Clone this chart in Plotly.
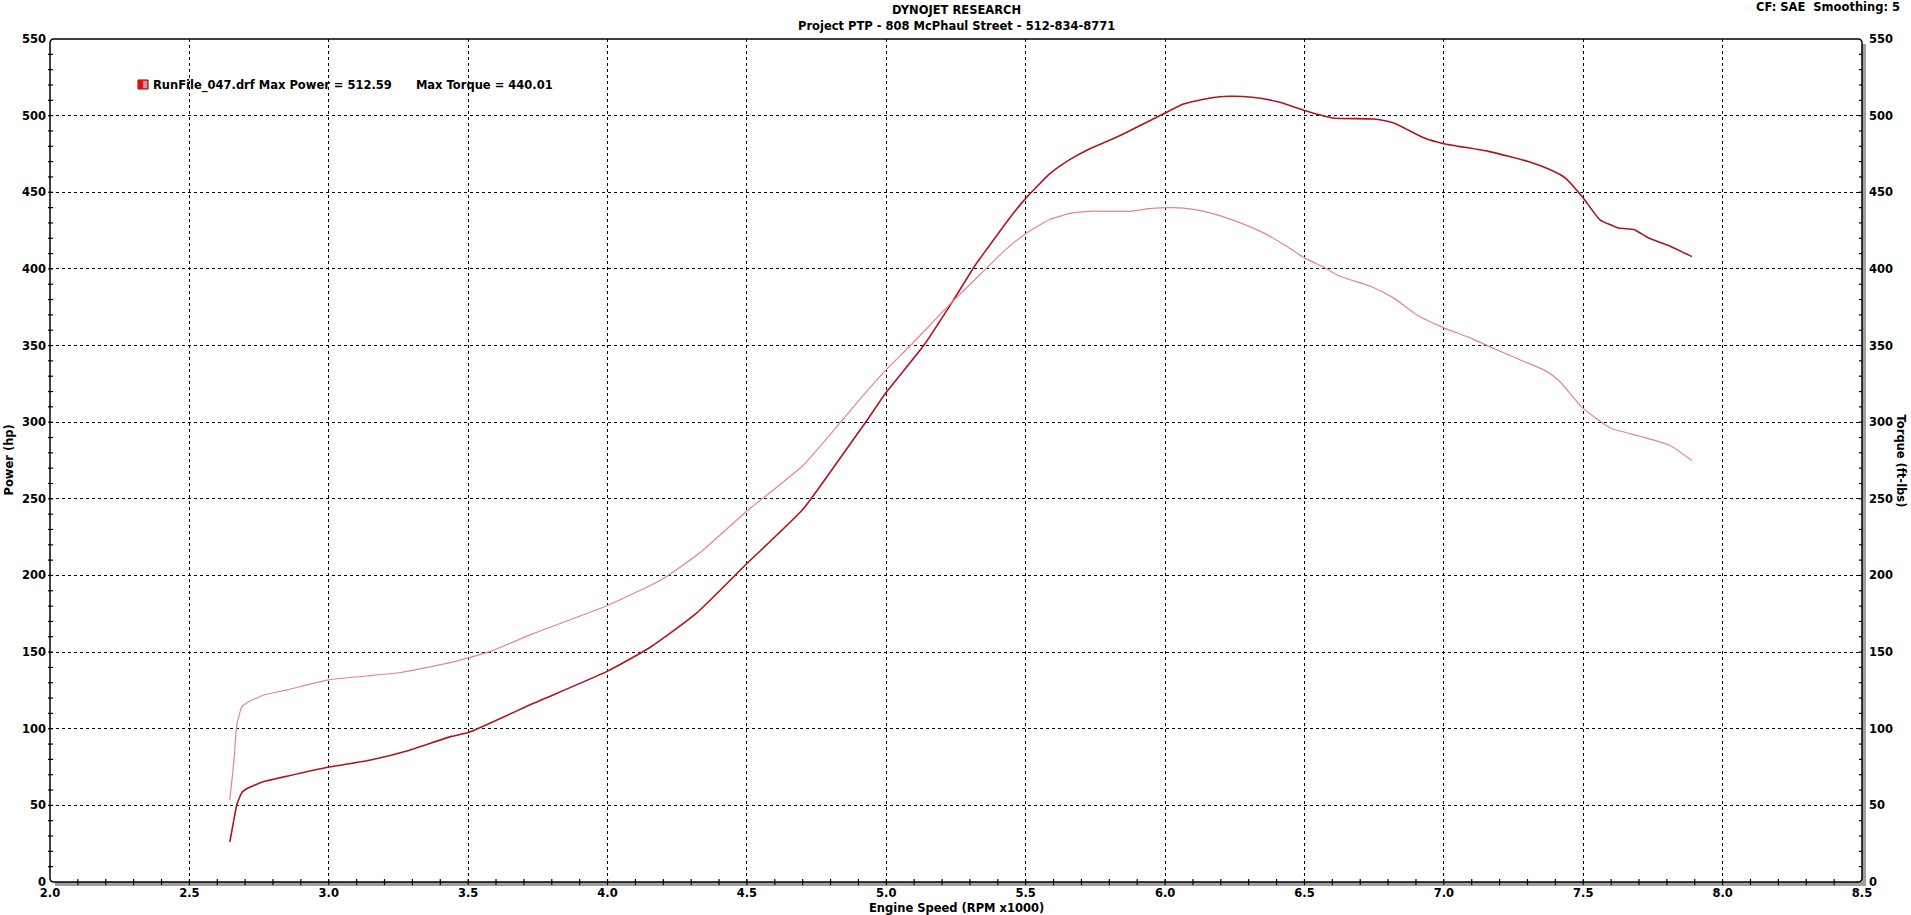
import plotly.graph_objects as go

# ---- data ----
rpm_power = [2.645, 2.659, 2.671, 2.689, 2.707, 2.767, 2.85, 3.0, 3.15, 3.29, 3.44, 3.5,
             3.735, 4.0, 4.152, 4.315, 4.5, 4.70, 4.836, 4.926, 5.0, 5.134, 5.238, 5.32,
             5.365, 5.45, 5.5, 5.586, 5.655, 5.723, 5.833, 5.929, 6.0, 6.066, 6.162, 6.23,
             6.312, 6.408, 6.5, 6.6, 6.75, 6.82, 6.93, 7.0, 7.16, 7.30, 7.38, 7.436, 7.5,
             7.559, 7.627, 7.682, 7.734, 7.81, 7.89]
power_hp = [26, 40, 51, 58.5, 61, 65.5, 69, 75, 79.6, 86, 95, 97.5,
            116.6, 137.6, 153, 174.7, 207.8, 243, 277, 300, 319.5, 350, 378.8, 402.7,
            414, 435, 446, 462, 471, 477.8, 486.5, 495.2, 501.7, 507.6, 511.5, 512.6,
            512, 508.9, 503.3, 498.5, 497.8, 495.2, 485.4, 481.7, 476.7, 470.2, 464.8, 459.3, 446.3,
            432.2, 426.7, 425.7, 420.2, 415, 408]

rpm_torque = [2.645, 2.659, 2.671, 2.689, 2.707, 2.767, 2.85, 3.0, 3.25, 3.44, 3.5, 3.586,
              3.735, 4.0, 4.196, 4.33, 4.5, 4.70, 4.836, 4.91, 5.0, 5.089, 5.238, 5.357,
              5.424, 5.5, 5.586, 5.668, 5.723, 5.874, 5.942, 6.025, 6.107, 6.175, 6.27, 6.353,
              6.436, 6.5, 6.573, 6.627, 6.737, 6.819, 6.901, 7.0, 7.095, 7.16, 7.285, 7.367,
              7.415, 7.5, 7.6, 7.7, 7.81, 7.89]
torque_ftlb = [53.5, 77.5, 103.6, 114.4, 117, 122, 125.3, 131.9, 136.5, 143.3, 146.2, 150.8,
               162.2, 180.4, 197.5, 214.6, 242, 271.6, 300, 316, 334.3, 350.5, 378.8, 400,
               411.9, 423, 432.2, 436.5, 437.6, 437.6, 439.3, 440.0, 438.7, 435.9, 430, 423.5,
               414.8, 407.2, 400.7, 395.2, 388.7, 381.1, 370.2, 361.5, 355, 349.6, 339.8, 333.3,
               326.7, 309, 296, 291, 285, 275]

x_range = [2.0, 8.5]
y_range = [0, 550]
x_minor_ticks = [round(2.0 + 0.1 * i, 1) for i in range(1, 65)]
y_minor_ticks = [10 * i for i in range(1, 55)]

title1 = "DYNOJET RESEARCH"
title2 = "Project PTP - 808 McPhaul Street - 512-834-8771"
corner_text = "CF: SAE&nbsp;&nbsp;Smoothing: 5"
legend_text = "RunFile_047.drf Max Power = 512.59&nbsp;&nbsp;&nbsp;&nbsp;&nbsp;&nbsp;Max Torque = 440.01"

POWER_COLOR = "#B3121F"
TORQUE_COLOR = "#E3878D"
FONT = dict(family="DejaVu Sans", size=11.5, color="black", weight="bold")

W_FIG, H_FIG = 1911, 915
ML, MR, MT, MB = 50, 49, 39, 33
W = W_FIG - ML - MR
H = H_FIG - MT - MB

fig = go.Figure()
fig.add_trace(go.Scatter(x=rpm_torque, y=torque_ftlb, mode="lines", yaxis="y2",
                         line=dict(color=TORQUE_COLOR, width=1.2, shape="spline", smoothing=0.5),
                         name="Torque"))
fig.add_trace(go.Scatter(x=rpm_power, y=power_hp, mode="lines",
                         line=dict(color=POWER_COLOR, width=1.6, shape="spline", smoothing=0.5),
                         name="Power"))

axis_common = dict(showline=False, zeroline=False, ticks="", showgrid=True,
                   gridcolor="black", gridwidth=1, griddash="3px,3px",
                   tickfont=FONT, fixedrange=True)

fig.update_layout(
    width=W_FIG, height=H_FIG,
    margin=dict(l=ML, r=MR, t=MT, b=MB, pad=0),
    paper_bgcolor="white", plot_bgcolor="white",
    showlegend=False,
    xaxis=dict(range=x_range, dtick=0.5, tick0=2.0, tickformat=".1f",
               ticklabelstandoff=2, **axis_common),
    yaxis=dict(range=y_range, dtick=50, tick0=0, ticklabelstandoff=3, **axis_common),
    yaxis2=dict(range=y_range, dtick=50, tick0=0, overlaying="y", side="right",
                showline=False, zeroline=False, ticks="", showgrid=False,
                ticklabelstandoff=6, tickfont=FONT, fixedrange=True),
)

shapes = []
# shadow bars (gray) right and bottom
shapes.append(dict(type="rect", xref="paper", yref="paper", layer="above",
                   x0=1, x1=1 + 4 / W, y0=-4 / H, y1=1 - 5 / H,
                   fillcolor="#A0A0A0", line=dict(width=0)))
shapes.append(dict(type="rect", xref="paper", yref="paper", layer="above",
                   x0=5 / W, x1=1 + 4 / W, y0=-4 / H, y1=0,
                   fillcolor="#A0A0A0", line=dict(width=0)))
# rounded border
rx, ry = 4 / W, 4 / H
path = (f"M 0,{ry} L 0,{1-ry} Q 0,1 {rx},1 L {1-rx},1 Q 1,1 1,{1-ry} "
        f"L 1,{ry} Q 1,0 {1-rx},0 L {rx},0 Q 0,0 0,{ry} Z")
shapes.append(dict(type="path", xref="paper", yref="paper", path=path, layer="above",
                   line=dict(color="black", width=1.5)))
# crossing ticks
for v in x_minor_ticks:
    shapes.append(dict(type="line", xref="x", yref="paper", x0=v, x1=v,
                       y0=-3 / H, y1=3 / H, line=dict(color="black", width=1.2)))
for v in y_minor_ticks:
    shapes.append(dict(type="line", xref="paper", yref="y", x0=-2 / W, x1=3 / W,
                       y0=v, y1=v, line=dict(color="black", width=1.2)))
    shapes.append(dict(type="line", xref="paper", yref="y", x0=1 - 3 / W, x1=1,
                       y0=v, y1=v, line=dict(color="black", width=1.2)))
# legend swatch
sx0, sy0 = (138 - ML) / W, (882 - 89) / H
sx1, sy1 = (148 - ML) / W, (882 - 80) / H
shapes.append(dict(type="rect", xref="paper", yref="paper", x0=sx0, x1=sx1, y0=sy0, y1=sy1,
                   fillcolor="#F08A8A", line=dict(color="#5A0000", width=1)))
shapes.append(dict(type="rect", xref="paper", yref="paper", x0=sx0, x1=(sx0 + sx1) / 2,
                   y0=sy0, y1=sy1, fillcolor="#E0101A", line=dict(width=0)))
fig.update_layout(shapes=shapes)

ann = [
    dict(text=title1, x=0.5, y=1, xref="paper", yref="paper", yshift=29,
         showarrow=False, font=FONT, xanchor="center", yanchor="middle"),
    dict(text=title2, x=0.5, y=1, xref="paper", yref="paper", yshift=13,
         showarrow=False, font=FONT, xanchor="center", yanchor="middle"),
    dict(text=corner_text, x=1, y=1, xref="paper", yref="paper", xshift=40, yshift=32,
         showarrow=False, font=FONT, xanchor="right", yanchor="middle"),
    dict(text=legend_text, x=(151 - ML) / W, y=(882 - 85) / H, xref="paper", yref="paper",
         showarrow=False, font=FONT, xanchor="left", yanchor="middle"),
    dict(text="Engine Speed (RPM x1000)", x=0.5, y=0, xref="paper", yref="paper", yshift=-26,
         showarrow=False, font=FONT, xanchor="center", yanchor="middle"),
    dict(text="Power (hp)", x=0, y=0.5, xref="paper", yref="paper", xshift=-42, textangle=-90,
         showarrow=False, font=FONT, xanchor="center", yanchor="middle"),
    dict(text="Torque (ft-lbs)", x=1, y=0.5, xref="paper", yref="paper", xshift=39, textangle=90,
         showarrow=False, font=FONT, xanchor="center", yanchor="middle"),
]
fig.update_layout(annotations=ann)

fig.write_html("out.html", config={"displayModeBar": False},
               post_script="document.body.style.margin='0';document.body.style.overflow='hidden';")
